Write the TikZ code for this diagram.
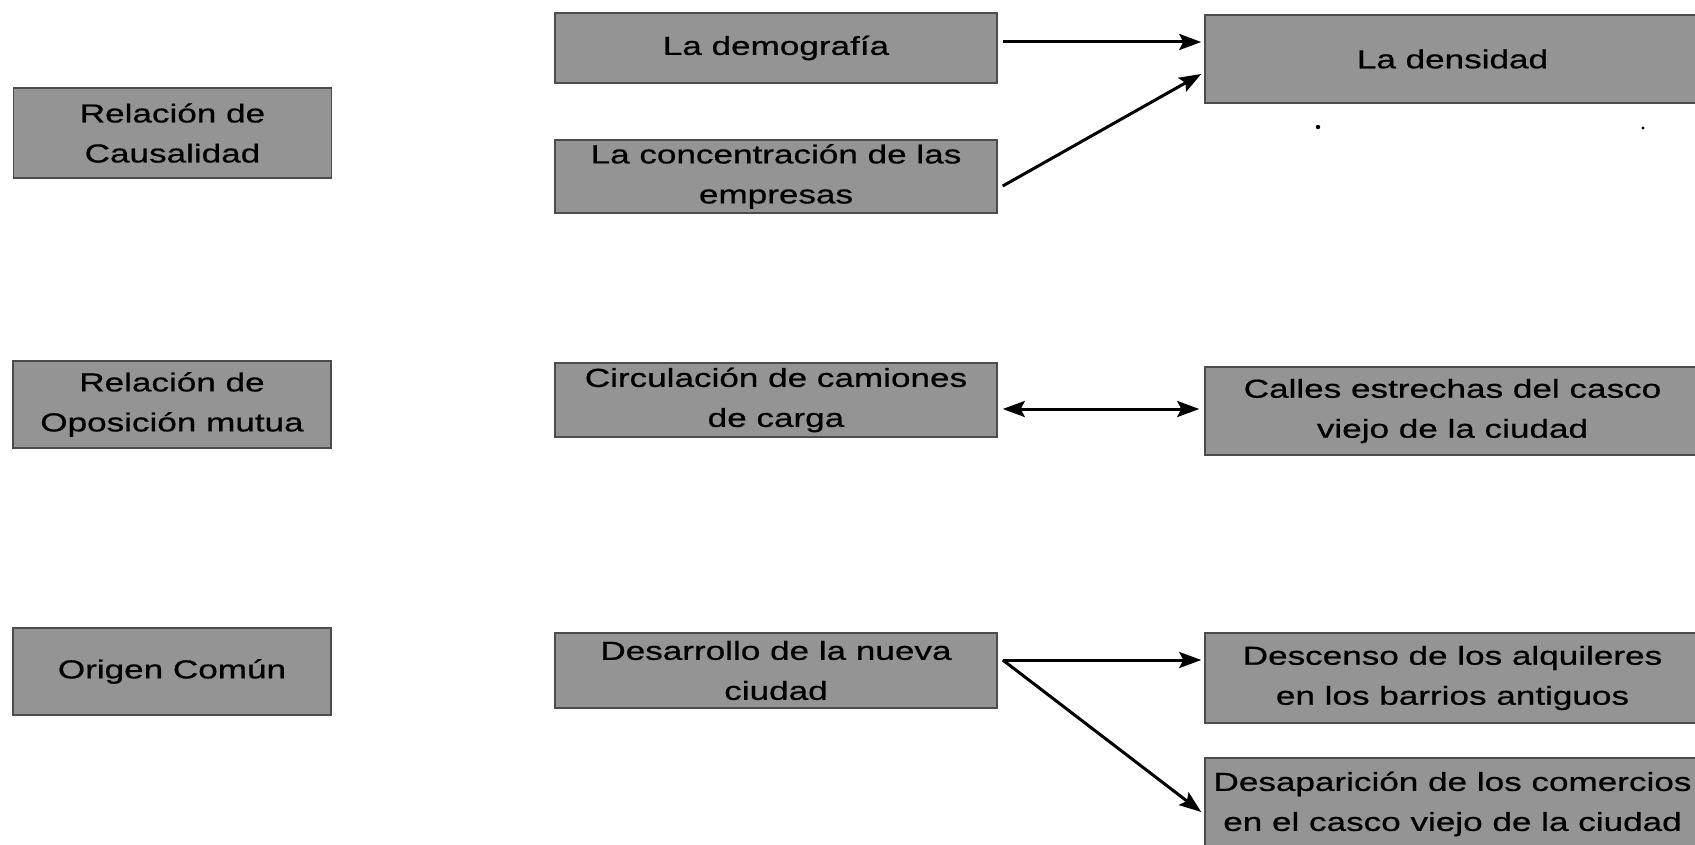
\documentclass[tikz,border=0pt]{standalone}
\usepackage{fontspec}
\newfontfamily\boxfont[FakeStretch=1.35,FakeBold=0.7]{Liberation Sans}
\usetikzlibrary{arrows.meta,calc}
\definecolor{boxgray}{gray}{0.58}
\definecolor{boxedge}{gray}{0.3}
\tikzset{
  cbox/.style={rectangle, fill=boxgray, draw=boxedge, line width=1.5pt, inner sep=0pt,
    align=center, font=\boxfont\fontsize{26}{40}\selectfont, text=black},
  lbox/.style={cbox, minimum width=318pt},
  mbox/.style={cbox, minimum width=442pt},
  rbox/.style={cbox, minimum width=495pt},
  tip/.tip={Stealth[length=22pt,width=16pt,inset=4pt]},
  arr/.style={line width=3pt, -tip},
  biarr/.style={line width=3pt, tip-tip}
}
\begin{document}
\begin{tikzpicture}[x=1pt,y=-1pt]
\useasboundingbox (0,0) rectangle (1695,845);
\clip (0,0) rectangle (1695,845);
% left column
\node[lbox, minimum height=90pt] (A1) at (172.5,133) {Relación de\\Causalidad};
\node[lbox, minimum height=87pt] (A2) at (172,404.5) {Relación de\\Oposición mutua};
\node[lbox, minimum height=87pt] (A3) at (172,671.5) {Origen Común};
% middle column
\node[mbox, minimum height=70pt] (B1) at (776,48) {La demografía};
\node[mbox, minimum height=73pt] (B2) at (776,176.5) {La concentración de las\\empresas};
\node[mbox, minimum height=74pt] (B3) at (776,400) {Circulación de camiones\\de carga};
\node[mbox, minimum height=75pt] (B4) at (776,670.5) {Desarrollo de la nueva\\ciudad};
% right column
\node[rbox, minimum height=88pt] (C1) at (1452.5,59) {La densidad};
\node[rbox, minimum height=88pt] (C2) at (1452.5,411) {Calles estrechas del casco\\viejo de la ciudad};
\node[rbox, minimum height=90pt] (C3) at (1452.5,678) {Descenso de los alquileres\\en los barrios antiguos};
\node[rbox, minimum height=92pt] (C4) at (1452.5,804) {Desaparición de los comercios\\en el casco viejo de la ciudad};
% specks
\fill (1318,127) circle (2.2pt);
\fill (1643,128) circle (1.6pt);
% connectors
\draw[arr] ($(B1.east)+(5,-6)$) -- ($(C1.west)+(-3,-17)$);
\draw[arr] ($(B2.east)+(5,9.5)$) -- ($(C1.west)+(-3,15)$);
\draw[biarr] ($(B3.east)+(5,9)$) -- ($(C2.west)+(-5,-2)$);
\coordinate (D) at ($(B4.east)+(5,-10.5)$);
\draw[arr] (D) -- ($(C3.west)+(-3,-18)$);
\draw[arr] (D) -- ($(C4.west)+(-3,8)$);
\end{tikzpicture}
\end{document}
